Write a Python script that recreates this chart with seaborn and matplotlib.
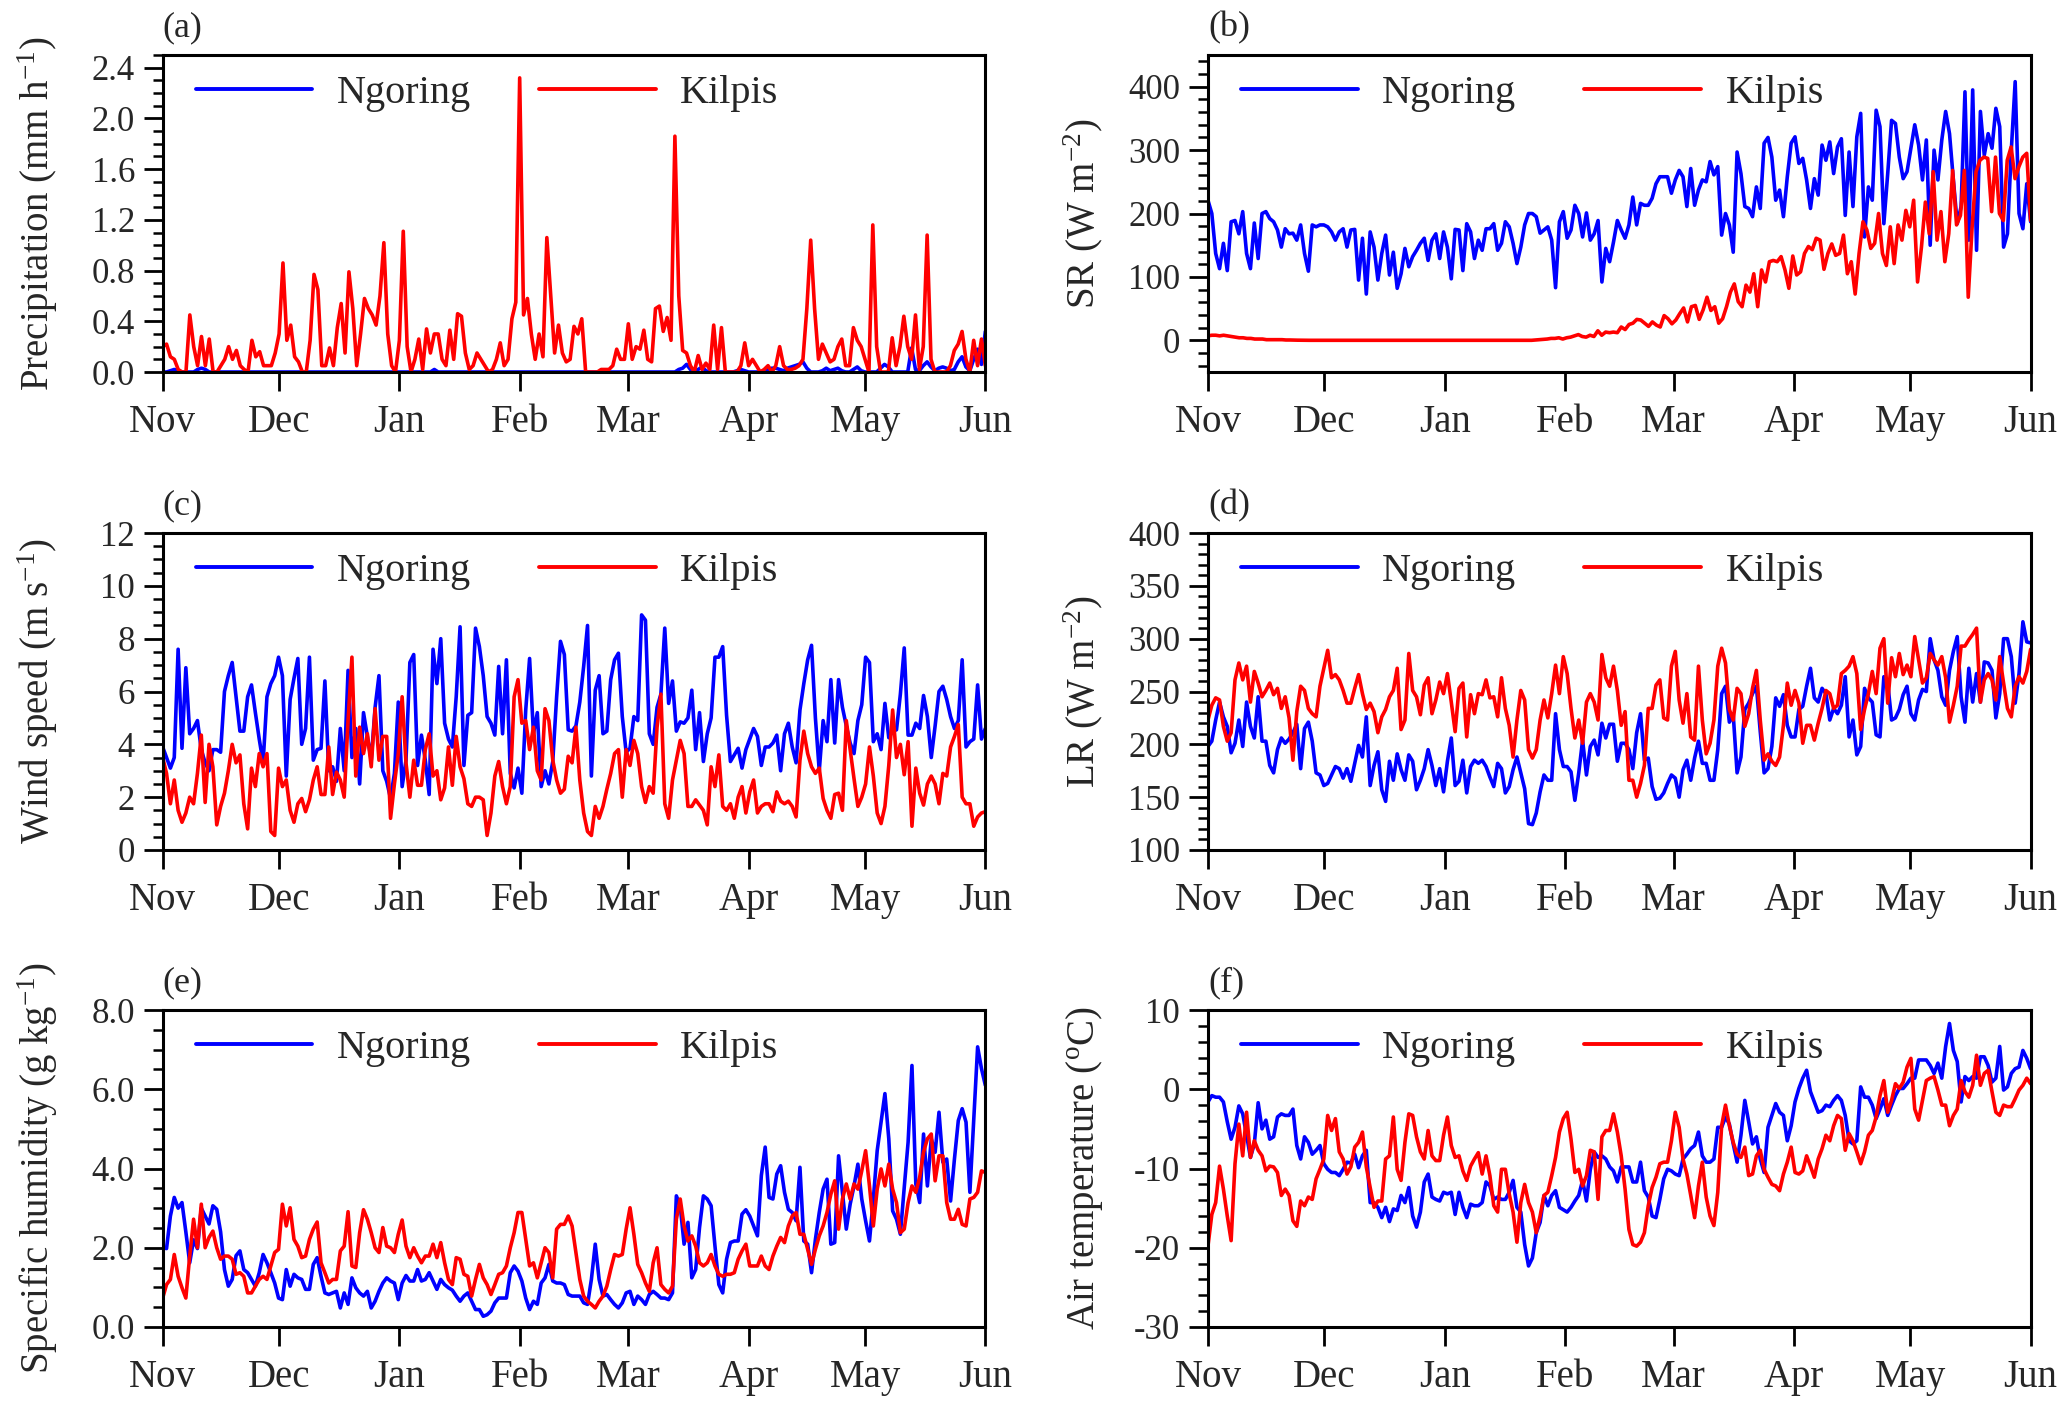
import numpy as np
import pandas as pd
import matplotlib
matplotlib.use('Agg')
import matplotlib.pyplot as plt
import matplotlib.dates as mdates
from matplotlib.ticker import MultipleLocator, FormatStrFormatter, NullLocator
import seaborn as sns

# daily series, 1 Nov to 1 Jun
START = '2014-11-01'
END = '2015-06-01'
STATIONS = ['Ngoring', 'Kilpis']
COLORS = {'Ngoring': 'blue', 'Kilpis': 'red'}

# (a) precipitation (mm h-1)
precip_ngoring = [
    0, 0, 0.01, 0.02, 0.01, 0, 0, 0, 0, 0.02,
    0.03, 0.02, 0, 0, 0, 0, 0, 0, 0, 0,
    0, 0, 0, 0, 0, 0, 0, 0, 0, 0,
    0, 0, 0, 0, 0, 0, 0, 0, 0, 0,
    0, 0, 0, 0, 0, 0, 0, 0, 0, 0,
    0, 0, 0, 0, 0, 0, 0, 0, 0, 0,
    0, 0, 0, 0, 0, 0, 0, 0, 0, 0,
    0.02, 0, 0, 0, 0, 0, 0, 0, 0, 0,
    0, 0, 0, 0, 0, 0, 0, 0, 0, 0,
    0, 0, 0, 0, 0, 0, 0, 0, 0, 0,
    0, 0, 0, 0, 0, 0, 0, 0, 0, 0,
    0, 0, 0, 0, 0, 0, 0, 0, 0, 0,
    0, 0, 0, 0, 0, 0, 0, 0, 0, 0,
    0, 0, 0, 0.02, 0.03, 0.06, 0.02, 0, 0.02, 0.04,
    0.01, 0, 0, 0, 0, 0, 0, 0, 0.01, 0.02,
    0.01, 0, 0, 0, 0, 0.01, 0.02, 0.03, 0.03, 0.02,
    0.01, 0.03, 0.04, 0.05, 0.06, 0.08, 0.03, 0, 0, 0,
    0.01, 0.03, 0.01, 0.02, 0.03, 0.01, 0, 0, 0.02, 0.04,
    0.01, 0, 0, 0, 0, 0.03, 0.06, 0.04, 0, 0,
    0, 0, 0, 0.19, 0.02, 0.01, 0.05, 0.08, 0.04, 0.01,
    0.03, 0.04, 0.03, 0.01, 0.02, 0.08, 0.12, 0.04, 0.01, 0.10,
    0.18, 0.06, 0.32]
precip_kilpis = [
    0.20, 0.22, 0.12, 0.10, 0.02, 0.0, 0.0, 0.45, 0.20, 0.05,
    0.28, 0.05, 0.26, 0.0, 0.0, 0.05, 0.10, 0.20, 0.10, 0.17,
    0.05, 0.02, 0.0, 0.25, 0.12, 0.16, 0.05, 0.05, 0.05, 0.15,
    0.30, 0.86, 0.25, 0.37, 0.12, 0.08, 0.0, 0.0, 0.25, 0.77,
    0.65, 0.05, 0.05, 0.19, 0.05, 0.35, 0.54, 0.15, 0.79, 0.50,
    0.05, 0.30, 0.58, 0.50, 0.45, 0.37, 0.60, 1.02, 0.30, 0.05,
    0.0, 0.25, 1.11, 0.20, 0.0, 0.10, 0.26, 0.02, 0.34, 0.15,
    0.30, 0.30, 0.10, 0.05, 0.33, 0.10, 0.46, 0.44, 0.15, 0.02,
    0.05, 0.15, 0.10, 0.05, 0.0, 0.02, 0.10, 0.23, 0.05, 0.10,
    0.42, 0.55, 2.32, 0.45, 0.58, 0.30, 0.10, 0.30, 0.12, 1.06,
    0.60, 0.15, 0.37, 0.15, 0.08, 0.10, 0.36, 0.30, 0.42, 0.0,
    0.0, 0.0, 0.0, 0.02, 0.02, 0.02, 0.05, 0.18, 0.10, 0.10,
    0.38, 0.10, 0.20, 0.18, 0.33, 0.10, 0.08, 0.50, 0.52, 0.32,
    0.43, 0.25, 1.86, 0.60, 0.17, 0.15, 0.05, 0.0, 0.13, 0.02,
    0.07, 0.02, 0.37, 0.02, 0.35, 0.0, 0.0, 0.0, 0.0, 0.05,
    0.23, 0.05, 0.10, 0.05, 0.0, 0.02, 0.05, 0.0, 0.05, 0.20,
    0.05, 0.02, 0.02, 0.03, 0.05, 0.10, 0.50, 1.04, 0.50, 0.10,
    0.22, 0.15, 0.08, 0.10, 0.20, 0.26, 0.05, 0.05, 0.35, 0.25,
    0.20, 0.10, 0.0, 1.16, 0.20, 0.0, 0.0, 0.0, 0.27, 0.05,
    0.20, 0.44, 0.20, 0.10, 0.45, 0.02, 0.20, 1.08, 0.10, 0.0,
    0.0, 0.0, 0.0, 0.05, 0.17, 0.22, 0.32, 0.10, 0.0, 0.25,
    0.05, 0.26, 0.05]

# (b) shortwave radiation (W m-2)
sr_ngoring = [
    221, 200, 137, 113, 153, 110, 187, 189, 168, 203,
    137, 113, 185, 129, 200, 203, 192, 187, 174, 147,
    176, 168, 169, 158, 182, 137, 109, 182, 179, 182,
    182, 179, 171, 158, 171, 176, 147, 174, 175, 95,
    161, 73, 171, 147, 95, 137, 166, 103, 139, 82,
    105, 145, 116, 132, 142, 153, 161, 126, 158, 168,
    129, 171, 147, 97, 175, 174, 110, 184, 171, 129,
    158, 142, 176, 176, 184, 142, 153, 187, 179, 153,
    121, 147, 182, 200, 200, 195, 169, 174, 179, 158,
    83, 187, 203, 161, 174, 213, 200, 163, 201, 158,
    168, 189, 92, 145, 124, 155, 189, 174, 161, 182,
    226, 182, 216, 213, 213, 224, 247, 258, 258, 258,
    232, 253, 268, 258, 211, 271, 213, 237, 253, 250,
    282, 261, 274, 166, 200, 182, 139, 297, 263, 211,
    208, 195, 242, 208, 311, 320, 289, 221, 237, 195,
    258, 311, 321, 279, 287, 253, 208, 255, 229, 308,
    284, 313, 263, 305, 318, 197, 297, 211, 321, 358,
    163, 242, 221, 363, 337, 184, 263, 347, 342, 289,
    255, 266, 303, 340, 308, 253, 316, 150, 300, 253,
    316, 361, 326, 253, 184, 211, 392, 158, 395, 142,
    361, 292, 326, 303, 366, 337, 147, 168, 300, 408,
    200, 176, 247, 187]
sr_kilpis = [
    7, 8, 8, 7, 8, 7, 6, 5, 4, 4,
    3, 3, 2, 2, 2, 1, 1, 1, 1, 1,
    0.5, 0.5, 0.3, 0.2, 0.1, 0, 0, 0, 0, 0,
    0, 0, 0, 0, 0, 0, 0, 0, 0, 0,
    0, 0, 0, 0, 0, 0, 0, 0, 0, 0,
    0, 0, 0, 0, 0, 0, 0, 0, 0, 0,
    0, 0, 0, 0, 0, 0, 0, 0, 0, 0,
    0, 0, 0, 0, 0, 0, 0, 0, 0, 0,
    0, 0, 0, 0, 0.5, 1, 1.5, 2, 3, 3,
    4, 2, 4, 5, 7, 9, 6, 5, 8, 6,
    15, 8, 13, 12, 13, 12, 21, 17, 25, 27,
    33, 32, 27, 22, 29, 24, 21, 39, 34, 26,
    32, 42, 51, 29, 53, 55, 33, 48, 68, 47,
    53, 27, 34, 53, 76, 89, 61, 53, 87, 76,
    105, 53, 111, 92, 124, 126, 124, 132, 111, 82,
    133, 103, 108, 137, 148, 143, 161, 158, 112, 137,
    152, 134, 137, 166, 105, 124, 73, 137, 187, 174,
    145, 153, 200, 137, 118, 179, 121, 182, 158, 205,
    179, 221, 92, 147, 218, 168, 266, 158, 203, 124,
    168, 268, 182, 197, 268, 68, 179, 266, 284, 289,
    287, 203, 289, 200, 189, 284, 305, 255, 274, 289,
    295, 189]

# (c) wind speed (m s-1)
wind_ngoring = [
    3.9, 3.5, 3.1, 3.5, 7.6, 3.85, 6.9, 4.4, 4.6, 4.9,
    3.8, 3.3, 3.0, 3.8, 3.8, 3.7, 6.0, 6.6, 7.1, 5.8,
    4.5, 4.5, 5.8, 6.25, 5.2, 4.2, 3.3, 5.8, 6.3, 6.6,
    7.3, 6.6, 2.8, 5.7, 6.5, 7.25, 4.0, 4.6, 7.3, 3.4,
    3.8, 3.85, 6.4, 3.0, 3.15, 2.6, 4.6, 3.0, 6.8, 3.5,
    4.6, 2.5, 5.2, 4.3, 3.4, 5.4, 6.6, 3.0, 2.6, 1.95,
    2.9, 5.6, 2.4, 3.4, 7.1, 7.4, 3.2, 4.35, 3.4, 2.1,
    7.6, 6.3, 8.0, 4.8, 4.2, 3.9, 5.8, 8.45, 3.2, 5.1,
    5.2, 8.4, 7.7, 6.6, 5.05, 4.8, 4.35, 6.95, 4.4, 7.2,
    2.9, 2.35, 3.1, 2.15, 5.3, 7.25, 4.4, 5.2, 2.4, 3.0,
    2.5, 3.35, 5.8, 7.9, 7.4, 4.55, 4.5, 4.7, 5.6, 6.95,
    8.5, 2.8, 6.05, 6.6, 4.4, 4.5, 6.45, 7.2, 7.45, 5.05,
    3.7, 3.85, 5.05, 4.9, 8.9, 8.7, 4.4, 4.0, 5.4, 5.9,
    8.4, 5.55, 6.4, 4.5, 4.85, 4.8, 5.0, 6.05, 3.8, 5.2,
    3.35, 4.4, 5.0, 7.3, 7.3, 7.7, 5.1, 3.35, 3.6, 3.85,
    3.1, 3.8, 4.2, 4.6, 4.3, 3.2, 3.9, 3.9, 4.05, 4.35,
    3.0, 4.4, 4.8, 3.9, 3.3, 5.3, 6.3, 7.2, 7.75, 5.0,
    3.0, 4.9, 4.1, 6.45, 4.05, 6.45, 5.4, 4.7, 4.05, 3.65,
    4.9, 5.5, 7.3, 7.1, 4.1, 4.4, 3.8, 5.55, 4.25, 4.5,
    4.55, 5.9, 7.65, 4.35, 4.35, 4.8, 4.6, 5.85, 5.05, 3.5,
    4.7, 6.0, 6.2, 5.7, 5.05, 4.6, 4.9, 7.2, 3.9, 4.1,
    4.2, 6.25, 4.2, 4.6]
wind_kilpis = [
    3.5, 2.9, 1.75, 2.65, 1.5, 1.05, 1.4, 2.0, 1.75, 2.9,
    4.35, 1.8, 4.0, 3.15, 0.95, 1.65, 2.15, 3.0, 4.0, 3.3,
    3.6, 1.75, 0.8, 3.1, 2.4, 3.65, 3.15, 3.65, 0.7, 0.55,
    3.1, 2.4, 2.65, 1.5, 1.05, 1.75, 1.95, 1.45, 1.9, 2.65,
    3.15, 2.1, 2.1, 3.9, 2.1, 2.95, 2.65, 2.0, 4.9, 7.3,
    2.8, 4.65, 3.65, 4.4, 3.15, 5.35, 3.4, 4.3, 4.3, 1.2,
    2.5, 3.65, 5.8, 3.3, 2.0, 3.4, 2.45, 2.45, 3.8, 4.4,
    2.8, 3.0, 1.9, 2.35, 3.9, 2.45, 4.3, 3.15, 2.7, 1.75,
    1.65, 2.0, 2.0, 1.9, 0.55, 1.4, 2.8, 3.35, 2.4, 1.75,
    2.4, 5.8, 6.45, 4.8, 4.9, 3.8, 4.65, 3.0, 2.65, 5.35,
    4.9, 3.4, 2.65, 2.15, 2.3, 3.55, 3.3, 4.65, 2.65, 1.4,
    0.7, 0.55, 1.65, 1.2, 1.65, 2.3, 2.9, 3.65, 3.8, 2.0,
    3.8, 3.2, 4.15, 3.65, 2.4, 1.8, 2.4, 2.15, 4.65, 5.9,
    1.75, 1.2, 2.65, 3.4, 4.15, 3.65, 1.65, 1.65, 1.9, 1.7,
    1.5, 0.95, 3.15, 2.4, 3.6, 1.65, 1.5, 1.75, 1.2, 2.0,
    2.4, 1.4, 2.2, 2.65, 1.4, 1.65, 1.75, 1.75, 1.45, 2.2,
    1.85, 1.75, 1.85, 1.65, 1.25, 3.4, 4.5, 3.65, 3.15, 2.9,
    3.1, 1.95, 1.5, 1.2, 2.1, 2.15, 1.5, 4.9, 3.8, 2.7,
    1.65, 2.0, 2.5, 3.9, 2.8, 1.4, 1.0, 1.65, 3.2, 5.3,
    3.5, 4.0, 2.85, 4.1, 0.9, 3.1, 2.15, 1.7, 2.5, 2.8,
    2.5, 1.75, 2.9, 2.8, 3.9, 4.3, 4.75, 2.0, 1.75, 1.75,
    0.9, 1.25, 1.4, 1.45]

# (d) longwave radiation (W m-2)
lr_ngoring = [
    198, 203, 223, 240, 226, 217, 192, 201, 223, 198,
    240, 217, 206, 245, 203, 203, 180, 173, 195, 206,
    201, 205, 211, 219, 177, 215, 221, 203, 173, 171,
    161, 163, 171, 179, 177, 168, 177, 165, 182, 199,
    188, 226, 161, 180, 193, 157, 146, 184, 166, 191,
    176, 166, 190, 184, 157, 166, 177, 195, 180, 161,
    177, 155, 184, 206, 161, 165, 185, 154, 179, 185,
    182, 185, 179, 169, 160, 182, 177, 154, 160, 176,
    188, 173, 158, 125, 124, 135, 155, 171, 166, 166,
    229, 195, 179, 179, 174, 147, 173, 204, 171, 198,
    204, 190, 220, 206, 219, 219, 184, 201, 201, 195,
    177, 211, 229, 185, 187, 160, 148, 149, 154, 163,
    171, 168, 150, 176, 185, 166, 187, 203, 182, 182,
    166, 166, 195, 248, 255, 221, 228, 173, 188, 233,
    239, 248, 255, 212, 173, 177, 198, 244, 236, 247,
    218, 207, 207, 233, 236, 255, 272, 244, 240, 253,
    248, 223, 234, 229, 237, 264, 207, 223, 190, 198,
    253, 244, 240, 209, 207, 264, 258, 223, 225, 233,
    247, 255, 229, 223, 242, 252, 250, 300, 280, 270,
    245, 237, 270, 288, 302, 245, 221, 272, 240, 267,
    240, 278, 277, 270, 225, 248, 300, 300, 283, 239,
    267, 316, 297, 296]
lr_kilpis = [
    223, 237, 244, 242, 217, 203, 211, 261, 277, 261,
    274, 240, 269, 258, 245, 251, 258, 247, 253, 234,
    245, 225, 185, 231, 255, 251, 234, 229, 226, 255,
    272, 289, 263, 266, 261, 251, 239, 239, 253, 266,
    248, 233, 239, 231, 211, 226, 233, 245, 251, 272,
    214, 223, 286, 251, 245, 228, 256, 263, 229, 242,
    259, 248, 267, 240, 212, 253, 258, 207, 247, 229,
    248, 247, 261, 244, 245, 226, 263, 234, 218, 188,
    223, 251, 242, 195, 187, 195, 223, 242, 225, 248,
    275, 248, 283, 267, 234, 206, 223, 201, 240, 248,
    240, 223, 285, 263, 255, 274, 251, 218, 231, 166,
    166, 150, 163, 180, 234, 234, 256, 261, 225, 223,
    274, 288, 242, 220, 248, 207, 204, 274, 223, 191,
    201, 223, 274, 291, 277, 233, 223, 253, 248, 217,
    229, 253, 270, 223, 185, 191, 184, 180, 188, 218,
    258, 237, 251, 239, 201, 218, 218, 204, 220, 234,
    251, 248, 234, 237, 267, 270, 274, 283, 267, 214,
    233, 248, 269, 248, 291, 300, 239, 282, 264, 286,
    266, 275, 264, 302, 280, 258, 263, 286, 280, 275,
    283, 263, 221, 237, 255, 293, 293, 299, 304, 310,
    240, 261, 267, 261, 242, 283, 258, 234, 226, 255,
    264, 258, 269, 290]

# (e) specific humidity (g kg-1)
q_ngoring = [
    2.0, 1.98, 2.8, 3.27, 3.0, 3.14, 2.4, 1.62, 2.2, 1.98,
    3.0, 2.8, 2.6, 3.06, 2.97, 2.4, 1.45, 1.03, 1.2, 1.8,
    1.92, 1.45, 1.37, 1.2, 1.03, 1.37, 1.83, 1.62, 1.37, 1.11,
    0.73, 0.69, 1.45, 1.03, 1.33, 1.24, 1.2, 0.95, 0.95, 1.58,
    1.75, 1.28, 0.86, 0.82, 0.86, 0.9, 0.48, 0.86, 0.57, 1.24,
    0.99, 0.86, 0.78, 0.9, 0.48, 0.65, 0.9, 1.11, 1.24, 1.16,
    1.11, 0.69, 1.11, 1.3, 1.16, 1.16, 1.45, 1.16, 1.2, 1.37,
    1.16, 0.95, 1.2, 1.07, 0.99, 0.93, 0.78, 0.65, 0.78, 0.86,
    0.65, 0.44, 0.44, 0.27, 0.31, 0.4, 0.61, 0.73, 0.73, 0.73,
    1.37, 1.54, 1.41, 1.16, 0.73, 0.44, 0.65, 0.57, 1.11, 1.24,
    1.58, 1.16, 1.11, 1.11, 1.07, 0.82, 0.78, 0.78, 0.78, 0.61,
    0.57, 1.2, 2.09, 1.2, 0.78, 0.82, 0.69, 0.57, 0.48, 0.61,
    0.86, 0.9, 0.57, 0.78, 0.69, 0.57, 0.82, 0.9, 0.82, 0.73,
    0.73, 0.69, 0.86, 3.31, 3.06, 2.09, 2.64, 1.24, 1.45, 2.51,
    3.31, 3.23, 3.06, 2.04, 1.07, 0.86, 1.71, 2.13, 2.17, 2.17,
    2.85, 2.96, 2.8, 2.55, 2.3, 3.82, 4.54, 3.27, 3.23, 3.86,
    4.07, 3.4, 2.97, 2.89, 2.68, 4.03, 2.17, 2.09, 1.37, 2.21,
    2.89, 3.48, 3.73, 2.09, 2.13, 4.32, 3.4, 2.47, 3.1, 3.56,
    4.11, 3.23, 2.68, 2.17, 3.23, 4.45, 5.17, 5.89, 4.75, 2.93,
    2.72, 2.34, 3.52, 4.66, 6.6, 3.61, 3.14, 4.87, 3.56, 4.75,
    4.41, 5.42, 4.16, 4.24, 3.18, 4.24, 5.21, 5.51, 5.17, 3.4,
    5.25, 7.07, 6.52, 6.1]
q_kilpis = [
    0.73, 1.07, 1.2, 1.83, 1.28, 0.99, 0.73, 1.79, 2.72, 2.0,
    3.1, 2.0, 2.26, 2.42, 2.0, 1.71, 1.79, 1.79, 1.71, 1.33,
    1.37, 1.28, 0.86, 0.86, 1.03, 1.2, 1.28, 1.2, 1.54, 1.88,
    1.96, 3.1, 2.55, 3.01, 2.21, 2.04, 1.75, 1.79, 2.21, 2.47,
    2.65, 1.62, 1.37, 1.11, 1.2, 1.2, 1.92, 2.04, 2.91, 1.54,
    1.5, 2.38, 2.96, 2.72, 2.38, 2.0, 1.88, 2.51, 2.04, 2.0,
    1.88, 2.34, 2.7, 2.04, 1.75, 2.0, 1.79, 1.62, 1.79, 1.79,
    2.09, 1.75, 2.13, 1.62, 1.2, 1.07, 1.75, 1.71, 1.33, 1.28,
    0.78, 1.2, 1.58, 1.24, 1.07, 0.82, 1.07, 1.33, 1.37, 1.54,
    2.0, 2.38, 2.89, 2.89, 2.21, 1.54, 1.62, 1.24, 1.62, 2.0,
    1.88, 1.24, 2.47, 2.59, 2.59, 2.8, 2.55, 1.88, 1.2, 0.78,
    0.65, 0.57, 0.48, 0.65, 0.78, 1.03, 1.45, 1.83, 1.79, 1.83,
    2.47, 3.01, 2.34, 1.58, 1.37, 1.11, 0.9, 1.62, 2.0, 1.07,
    0.95, 0.86, 1.03, 2.72, 3.23, 2.55, 2.17, 2.3, 2.04, 1.62,
    1.54, 1.62, 1.83, 1.54, 1.33, 1.28, 1.33, 1.33, 1.37, 1.71,
    1.92, 2.09, 1.54, 1.54, 1.54, 1.79, 1.54, 1.45, 1.79, 2.04,
    2.26, 2.13, 2.55, 2.8, 2.89, 2.34, 2.34, 1.96, 1.58, 1.96,
    2.3, 2.55, 2.89, 3.35, 3.69, 2.47, 3.23, 3.61, 3.23, 3.61,
    3.48, 3.94, 4.45, 3.56, 2.55, 3.48, 3.99, 3.56, 4.11, 3.48,
    3.14, 2.38, 2.47, 3.14, 3.56, 3.4, 3.78, 4.41, 4.75, 4.87,
    3.69, 4.32, 4.32, 3.14, 2.72, 2.72, 2.97, 2.59, 2.55, 3.23,
    3.27, 3.4, 3.94, 3.9]

# (f) air temperature (degC)
t_ngoring = [
    -1.6, -0.8, -1.0, -1.0, -1.6, -4.1, -6.3, -4.8, -2.1, -3.1,
    -5.8, -8.6, -6.9, -1.7, -5.0, -3.9, -6.3, -6.0, -3.5, -3.1,
    -3.3, -3.3, -2.5, -7.1, -8.8, -6.0, -6.7, -8.2, -7.7, -7.1,
    -9.4, -10.1, -10.5, -10.5, -10.9, -10.1, -9.2, -9.3, -8.2, -9.9,
    -8.4, -7.7, -14.3, -14.3, -14.9, -16.2, -14.9, -16.7, -15.1, -15.3,
    -13.4, -14.3, -12.4, -16.0, -17.4, -15.5, -11.7, -10.7, -13.6, -13.9,
    -14.1, -13.0, -13.2, -13.0, -15.8, -13.0, -14.9, -16.2, -14.5, -14.7,
    -14.7, -14.3, -11.7, -12.2, -13.9, -13.6, -13.9, -13.9, -13.0, -11.5,
    -14.9, -15.5, -19.6, -22.3, -21.3, -18.1, -16.8, -13.4, -14.7, -13.4,
    -12.8, -14.9, -15.2, -15.5, -14.9, -14.1, -13.4, -11.5, -14.1, -10.1,
    -7.9, -8.6, -8.4, -8.8, -9.8, -10.3, -11.7, -9.8, -9.8, -9.8,
    -11.7, -11.7, -9.2, -12.8, -13.6, -16.0, -16.2, -13.9, -11.3, -10.1,
    -10.3, -10.7, -10.9, -8.8, -8.2, -7.5, -7.1, -5.4, -8.4, -9.2,
    -9.2, -8.8, -4.8, -4.8, -3.5, -4.4, -6.9, -9.2, -5.8, -1.4,
    -4.1, -6.9, -6.0, -8.8, -10.5, -4.8, -3.3, -1.8, -2.9, -3.3,
    -6.5, -4.6, -1.6, 0.1, 1.4, 2.4, -0.3, -1.6, -2.9, -2.7,
    -2.0, -2.2, -1.4, -0.8, -1.4, -3.3, -6.5, -6.9, -6.5, 0.3,
    -1.0, -1.0, -2.0, -3.7, -2.5, -1.2, -3.3, -2.0, -0.8, 0.1,
    0.1, 0.7, 1.4, 1.4, 3.7, 3.7, 3.7, 3.0, 2.0, 3.3,
    1.4, 5.4, 8.3, 4.9, 3.5, -1.6, 1.6, 1.1, 1.6, 1.4,
    4.1, 4.1, 3.0, 0.9, 1.4, 5.4, -0.1, 0.3, 2.0, 2.6,
    2.8, 4.9, 3.9, 2.6]
t_kilpis = [
    -19.8, -15.8, -14.3, -9.7, -12.6, -16.0, -19.1, -9.4, -4.4, -8.4,
    -2.9, -8.6, -6.5, -7.7, -8.4, -10.3, -9.7, -9.8, -10.5, -13.4,
    -12.6, -13.4, -16.6, -17.3, -14.1, -14.7, -13.6, -13.9, -11.3, -10.1,
    -8.8, -3.3, -5.2, -3.7, -7.9, -8.8, -10.7, -9.8, -7.3, -6.7,
    -5.4, -9.8, -12.4, -14.9, -14.1, -14.1, -8.8, -8.4, -3.5, -10.1,
    -11.5, -6.7, -3.1, -3.3, -6.0, -7.9, -8.8, -5.2, -8.4, -9.0,
    -9.0, -5.8, -3.5, -7.1, -8.6, -8.4, -10.3, -11.5, -9.7, -8.8,
    -8.0, -10.7, -8.4, -10.9, -14.7, -15.5, -10.1, -10.1, -13.2, -15.5,
    -19.3, -14.3, -12.0, -14.3, -15.5, -18.1, -16.0, -13.4, -13.0, -10.9,
    -8.6, -5.4, -3.7, -2.9, -6.3, -10.5, -10.1, -12.2, -10.9, -7.7,
    -7.9, -13.9, -6.0, -5.2, -5.2, -3.1, -5.4, -8.4, -12.6, -17.7,
    -19.6, -19.8, -19.3, -18.1, -14.7, -12.4, -11.1, -9.4, -9.2, -9.2,
    -6.5, -2.9, -4.8, -8.8, -10.7, -13.4, -16.2, -12.2, -9.2, -13.6,
    -16.0, -17.2, -13.0, -4.6, -2.0, -4.6, -6.7, -8.2, -8.6, -7.3,
    -10.9, -10.7, -8.4, -7.7, -10.1, -11.1, -12.0, -12.2, -12.8, -10.7,
    -9.2, -7.3, -10.5, -10.7, -10.3, -8.4, -9.7, -11.1, -8.8, -7.5,
    -5.8, -6.5, -4.6, -3.3, -3.7, -7.7, -5.6, -6.5, -7.9, -9.4,
    -7.9, -5.8, -5.2, -3.5, -0.8, 1.1, -2.9, -1.4, 0.7, 0.1,
    0.9, 2.8, 3.9, -2.5, -3.9, -1.4, 1.1, 1.4, 1.6, -0.1,
    -2.0, -2.0, -4.6, -3.3, -2.5, 1.1, -0.3, -1.0, 0.5, 4.3,
    0.5, 2.0, 2.4, -0.3, -2.9, -3.3, -2.0, -2.2, -2.2, -1.2,
    -0.1, 0.5, 1.4, 0.7]

# panel settings: position [left, bottom, width, height], tag, ylabel, ylim, major, minor, format
PANELS = [
    ([0.0787, 0.7371, 0.398, 0.2240], '(a)', 'Precipitation (mm h$^{-1}$)',
     (0, 2.5), 0.4, 0.1, '%.1f', precip_ngoring, precip_kilpis),
    ([0.5844, 0.7371, 0.398, 0.2240], '(b)', 'SR (W m$^{-2}$)',
     (-50, 450), 100, 20, '%d', sr_ngoring, sr_kilpis),
    ([0.0787, 0.3993, 0.398, 0.2240], '(c)', 'Wind speed (m s$^{-1}$)',
     (0, 12), 2, 0.5, '%d', wind_ngoring, wind_kilpis),
    ([0.5844, 0.3993, 0.398, 0.2240], '(d)', 'LR (W m$^{-2}$)',
     (100, 400), 50, 10, '%d', lr_ngoring, lr_kilpis),
    ([0.0787, 0.0622, 0.398, 0.2240], '(e)', 'Specific humidity (g kg$^{-1}$)',
     (0, 8), 2, 0.5, '%.1f', q_ngoring, q_kilpis),
    ([0.5844, 0.0622, 0.398, 0.2240], '(f)', 'Air temperature ($^{\\mathrm{o}}$C)',
     (-30, 10), 10, 2, '%d', t_ngoring, t_kilpis),
]


def to_frame(ngoring, kilpis):
    parts = []
    for name, vals in zip(STATIONS, (ngoring, kilpis)):
        dates = pd.date_range(START, END, periods=len(vals))
        parts.append(pd.DataFrame({'date': dates, 'value': vals, 'station': name}))
    return pd.concat(parts, ignore_index=True)


def main():
    sns.set_style('ticks')
    plt.rcParams['font.family'] = ['Liberation Serif', 'DejaVu Serif']
    plt.rcParams['mathtext.fontset'] = 'custom'
    plt.rcParams['mathtext.rm'] = 'Liberation Serif'
    plt.rcParams['mathtext.it'] = 'Liberation Serif:italic'
    plt.rcParams['mathtext.bf'] = 'Liberation Serif:bold'
    plt.rcParams['axes.unicode_minus'] = False

    fig = plt.figure(figsize=(20.67, 14.15), dpi=100)

    for pos, tag, ylabel, ylim, major, minor, fmt, ng, kp in PANELS:
        ax = fig.add_axes(pos)
        df = to_frame(ng, kp)
        sns.lineplot(data=df, x='date', y='value', hue='station',
                     hue_order=STATIONS, palette=COLORS, linewidth=2.6,
                     estimator=None, errorbar=None, ax=ax)

        ax.set_xlim(pd.Timestamp(START), pd.Timestamp(END))
        ax.set_ylim(*ylim)
        ax.xaxis.set_major_locator(mdates.MonthLocator())
        ax.xaxis.set_major_formatter(mdates.DateFormatter('%b'))
        ax.xaxis.set_minor_locator(NullLocator())
        ax.yaxis.set_major_locator(MultipleLocator(major))
        ax.yaxis.set_minor_locator(MultipleLocator(minor))
        ax.yaxis.set_major_formatter(FormatStrFormatter(fmt))

        ax.tick_params(axis='both', which='major', direction='out', length=14,
                       width=2, color='black', top=False, right=False)
        ax.tick_params(axis='y', which='minor', direction='out', length=7,
                       width=1.8, color='black', right=False)
        ax.tick_params(axis='x', labelsize=28, pad=9)
        ax.tick_params(axis='y', labelsize=25, pad=6)
        for s in ax.spines.values():
            s.set_visible(True)
            s.set_linewidth(2.2)
            s.set_color('black')

        ax.set_xlabel('')
        ax.set_ylabel(ylabel, fontsize=28)
        ax.yaxis.set_label_coords(-0.125, 0.5)

        ax.text(0.0, 1.06, tag, transform=ax.transAxes, fontsize=26,
                ha='left', va='baseline')

        handles, labels = ax.get_legend_handles_labels()
        leg = ax.legend(handles, labels, loc='center left',
                        bbox_to_anchor=(0.04, 0.878), ncol=2, frameon=False,
                        fontsize=29, handlelength=2.9, handletextpad=0.6,
                        columnspacing=1.7, borderpad=0, borderaxespad=0)
        for line in leg.get_lines():
            line.set_linewidth(2.8)

    fig.savefig('out.png', dpi=100)


if __name__ == '__main__':
    main()
